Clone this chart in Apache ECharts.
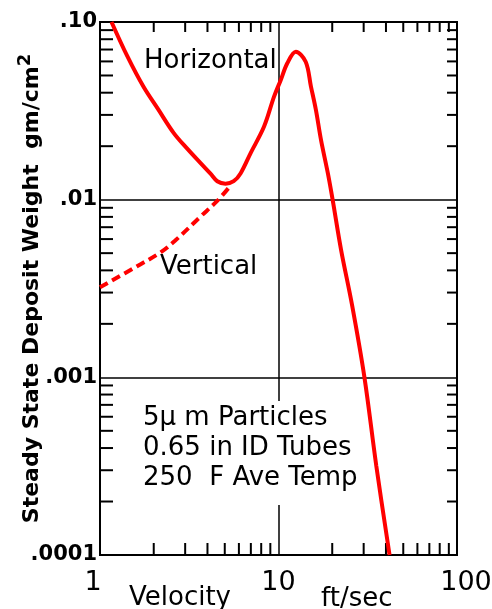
<!DOCTYPE html>
<html>
<head>
<meta charset="UTF-8">
<title>Steady State Deposit Weight</title>
<script src="https://cdn.jsdelivr.net/npm/echarts@6/dist/echarts.min.js"></script>
<style>
	html, body { margin: 0; padding: 0; background: #fff; }
	#container { width: 492px; height: 609px; }
</style>
</head>
<body>
<div id="container"></div>
<script>
// velocity (ft/sec), deposit weight (gm/cm2)
var horizontalData = [
	[1.16, 0.1], [1.42, 0.0644], [1.75, 0.0433], [2.12, 0.0322], [2.59, 0.0237],
	[3.09, 0.0193], [3.65, 0.0161], [4.16, 0.014], [4.54, 0.0127], [5.05, 0.0123],
	[5.61, 0.0127], [6.14, 0.0141], [6.98, 0.0183], [8.3, 0.0258], [9.44, 0.038],
	[10.3, 0.0472], [11.2, 0.0586], [12.5, 0.0681], [14.2, 0.0598], [15.2, 0.0433],
	[16.2, 0.032], [17.3, 0.0217], [18.9, 0.0141], [20.1, 0.01], [22.4, 0.00524],
	[25.85, 0.00254], [30.3, 0.001], [35.3, 0.000318], [41.9, 0.0001]
];
var verticalData = [
	[1, 0.00321], [1.68, 0.00432], [2.18, 0.00504], [2.64, 0.00589],
	[3.65, 0.00802], [4.55, 0.00987], [5.39, 0.012]
];
var xTickLabels = ['1', '10', '100'];
var yTickLabels = ['.0001', '.001', '.01', '.10'];
var minorSteps = [2, 3, 4, 5, 6, 7, 8, 9];
var xDecades = [1, 10];
var yDecades = [0.0001, 0.001, 0.01];
var notes = ['5\u03bc m Particles', '0.65 in ID Tubes', '250  F Ave Temp'];

var FONT = '"DejaVu Sans", sans-serif';

var xMinor = [], yMinor = [];
xDecades.forEach(function (d) {
	minorSteps.forEach(function (s) { xMinor.push([+(d * s).toPrecision(3), 0.001]); });
});
yDecades.forEach(function (d) {
	minorSteps.forEach(function (s) { yMinor.push([10, +(d * s).toPrecision(3)]); });
});

// little inward ticks between the decades, on all four sides
function tickRender(axis) {
	return function (params, api) {
		var s = { stroke: '#000', lineWidth: 2 };
		var a, b;
		if (axis === 'x') {
			var v = api.value(0);
			a = api.coord([v, 0.0001]);
			b = api.coord([v, 0.1]);
			return { type: 'group', children: [
				{ type: 'line', shape: { x1: a[0], y1: a[1], x2: a[0], y2: a[1] - 12 }, style: s },
				{ type: 'line', shape: { x1: b[0], y1: b[1], x2: b[0], y2: b[1] + 10 }, style: s }
			] };
		}
		var w = api.value(1);
		a = api.coord([1, w]);
		b = api.coord([100, w]);
		return { type: 'group', children: [
			{ type: 'line', shape: { x1: a[0], y1: a[1], x2: a[0] + 13, y2: a[1] }, style: s },
			{ type: 'line', shape: { x1: b[0], y1: b[1], x2: b[0] - 10, y2: b[1] }, style: s }
		] };
	};
}

var dom = document.getElementById('container');
var myChart = echarts.init(dom);

var option = {
	animation: false,
	backgroundColor: '#fff',
	grid: {
		left: 100, top: 22, right: 35, bottom: 54,
		containLabel: false, outerBoundsMode: 'none',
		show: true, borderColor: '#000', borderWidth: 2
	},
	xAxis: {
		type: 'log', logBase: 10, min: 1, max: 100,
		axisLine: { show: false },
		axisTick: { show: false },
		splitLine: { show: true, lineStyle: { color: '#000', width: 1.5 } },
		axisLabel: {
			margin: 14,
			color: '#000',
			fontFamily: FONT,
			fontSize: 27,
			formatter: function (v) {
				var i = Math.round(Math.log10(v));
				var key = i === 0 ? 'first' : (i === 2 ? 'last' : 'mid');
				return '{' + key + '|' + xTickLabels[i] + '}';
			},
			rich: {
				first: { fontFamily: FONT, fontSize: 27, color: '#000', padding: [0, 14, 0, 0] },
				mid: { fontFamily: FONT, fontSize: 27, color: '#000' },
				last: { fontFamily: FONT, fontSize: 27, color: '#000', padding: [0, 0, 0, 18] }
			}
		}
	},
	yAxis: {
		type: 'log', logBase: 10, min: 0.0001, max: 0.1,
		axisLine: { show: false },
		axisTick: { show: false },
		splitLine: { show: true, lineStyle: { color: '#000', width: 1.5 } },
		axisLabel: {
			margin: 3,
			color: '#000',
			fontFamily: FONT,
			fontWeight: 'bold',
			fontSize: 21,
			formatter: function (v) {
				return yTickLabels[Math.round(Math.log10(v)) + 4];
			}
		},
		name: 'Steady State Deposit Weight  gm/cm{sup|2}',
		nameLocation: 'middle',
		nameGap: 52,
		nameMoveOverlap: false,
		nameTextStyle: {
			color: '#000',
			fontFamily: FONT,
			fontWeight: 'bold',
			fontSize: 22,
			rich: {
				sup: { color: '#000', fontFamily: FONT, fontWeight: 'bold', fontSize: 18, padding: [0, 0, 14, 0] }
			}
		}
	},
	graphic: [
		{ type: 'text', x: 144, y: 61, z: 1, style: { text: 'Horizontal', fontFamily: FONT, fontSize: 26, fill: '#000', verticalAlign: 'middle' } },
		{ type: 'text', x: 160, y: 267, z: 1, style: { text: 'Vertical', fontFamily: FONT, fontSize: 26, fill: '#000', verticalAlign: 'middle' } },
		{ type: 'text', x: 141, y: 401, z: 1, style: {
			text: notes.join('\n'), fontFamily: FONT, fontSize: 26, lineHeight: 30, fill: '#000',
			backgroundColor: '#fff', padding: [2, 2, 12, 2], verticalAlign: 'top'
		} },
		{ type: 'text', x: 129, y: 598, z: 1, style: { text: 'Velocity', fontFamily: FONT, fontSize: 26, fill: '#000', verticalAlign: 'middle' } },
		{ type: 'text', x: 321, y: 599, z: 1, style: { text: 'ft/sec', fontFamily: FONT, fontSize: 26, fill: '#000', verticalAlign: 'middle' } }
	],
	series: [
		{ type: 'custom', name: 'xMinor', data: xMinor, renderItem: tickRender('x'), silent: true, z: 3 },
		{ type: 'custom', name: 'yMinor', data: yMinor, renderItem: tickRender('y'), silent: true, z: 3 },
		{
			name: 'Horizontal', type: 'line', data: horizontalData,
			showSymbol: false, symbol: 'none', smooth: 0.35,
			lineStyle: { color: '#ff0000', width: 4 }, z: 4
		},
		{
			name: 'Vertical', type: 'line', data: verticalData,
			showSymbol: false, symbol: 'none', smooth: 0.35,
			lineStyle: { color: '#ff0000', width: 4, type: [9, 5] }, z: 4
		}
	]
};

myChart.setOption(option, true);
</script>
</body>
</html>
